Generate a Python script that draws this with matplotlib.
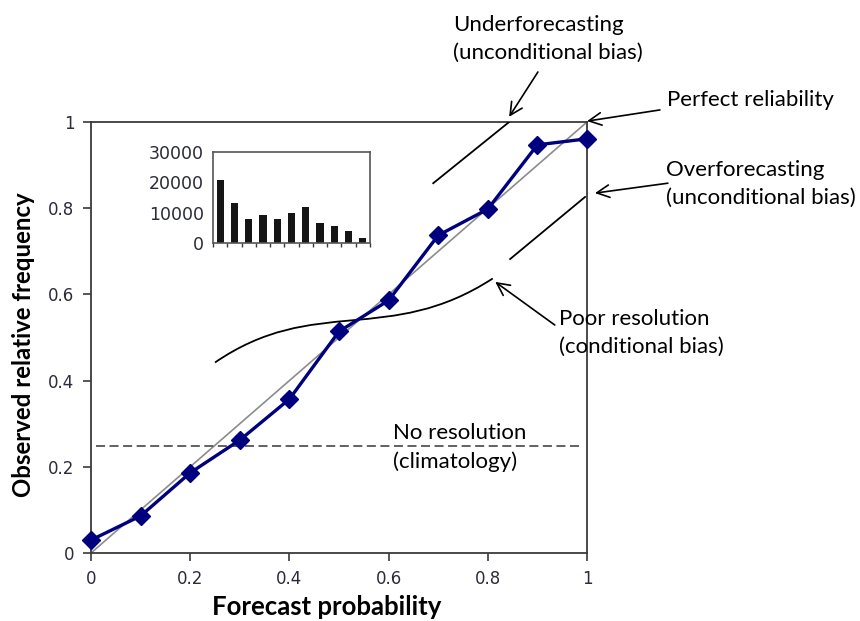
import matplotlib
matplotlib.use("Agg")
import matplotlib.pyplot as plt
from matplotlib.path import Path
from matplotlib.patches import PathPatch

# ---- data ----
forecast_prob = [0.0, 0.1, 0.2, 0.3, 0.4, 0.5, 0.6, 0.7, 0.8, 0.9, 1.0]
observed_freq = [0.030, 0.086, 0.186, 0.262, 0.357, 0.514, 0.586, 0.737, 0.798, 0.947, 0.961]
climatology = 0.248
hist_counts = [20700, 13100, 7900, 9200, 7900, 9800, 12000, 6700, 5500, 3800, 1500]
x_ticks = [0, 0.2, 0.4, 0.6, 0.8, 1.0]
x_ticklabels = ["0", "0.2", "0.4", "0.6", "0.8", "1"]
y_ticks = [0, 0.2, 0.4, 0.6, 0.8, 1.0]
y_ticklabels = ["0", "0.2", "0.4", "0.6", "0.8", "1"]
inset_yticks = [0, 10000, 20000, 30000]

TXT = ["Lato", "DejaVu Sans"]
TICK = ["DejaVu Sans"]
tick_color = "#2b2b3a"
spine_color = "#3a3a3a"

fig = plt.figure(figsize=(8.6, 6.21), dpi=100)
ax = fig.add_axes([91/860, 1-553/621, 496/860, 431/621])
ax.set_xlim(0, 1)
ax.set_ylim(0, 1)

# perfect reliability diagonal
ax.plot([0, 1], [0, 1], color="#8c8c8c", lw=1.2, zorder=2)
# climatology dashed
ax.axhline(climatology, xmin=0.01, xmax=0.99, color="#555555", lw=1.3,
           dashes=(5, 2.5), zorder=2)
# reliability curve
ax.plot(forecast_prob, observed_freq, color="#00007f", lw=2.4, marker="D",
        markersize=9.5, markerfacecolor="#00007f", markeredgecolor="#00007f",
        clip_on=False, zorder=4)

# bias illustration lines
ax.plot([0.690, 0.843], [0.858, 1.0], color="black", lw=1.3, zorder=3)
ax.plot([0.845, 0.996], [0.682, 0.826], color="black", lw=1.3, zorder=3)

# poor resolution S-curve
verts = [(0.25, 0.442), (0.45, 0.60), (0.60, 0.48), (0.81, 0.637)]
codes = [Path.MOVETO, Path.CURVE4, Path.CURVE4, Path.CURVE4]
ax.add_patch(PathPatch(Path(verts, codes), facecolor="none", edgecolor="black",
                       lw=1.3, zorder=3))

for s in ax.spines.values():
    s.set_color(spine_color)
    s.set_linewidth(1.3)

ax.set_xticks(x_ticks)
ax.set_xticklabels(x_ticklabels, family=TICK, fontsize=12, color=tick_color)
ax.set_yticks(y_ticks)
ax.set_yticklabels(y_ticklabels, family=TICK, fontsize=12, color=tick_color)
ax.tick_params(axis="both", direction="out", length=6, width=1.2, color=spine_color)
ax.tick_params(axis="x", pad=6)
ax.tick_params(axis="y", pad=6)

fig.text(24/860, 1-345/621, "Observed relative frequency", rotation=90,
         ha="center", va="center", family=TXT, fontweight="bold", fontsize=17.3)
fig.text(327/860, 1-607/621, "Forecast probability",
         ha="center", va="center", family=TXT, fontweight="bold", fontsize=18.5)

arrow = dict(arrowstyle="->,head_length=0.9,head_width=0.45", color="black",
             lw=1.2, shrinkA=0, shrinkB=0)
ann_kw = dict(xycoords="data", textcoords="data", annotation_clip=False)
ax.annotate("", xy=(0.843, 1.012), xytext=(0.901, 1.116), arrowprops=arrow, **ann_kw)
ax.annotate("", xy=(1.0, 1.002), xytext=(1.147, 1.028), arrowprops=arrow, **ann_kw)
ax.annotate("", xy=(1.016, 0.835), xytext=(1.163, 0.858), arrowprops=arrow, **ann_kw)
ax.annotate("", xy=(0.815, 0.629), xytext=(0.935, 0.529), arrowprops=arrow, **ann_kw)

tkw = dict(family=TXT, fontsize=16, ha="left", va="center", linespacing=1.5,
           clip_on=False, transform=ax.transData)
ax.text(0.730, 1.193, "Underforecasting\n(unconditional bias)", **tkw)
ax.text(1.161, 1.051, "Perfect reliability", **tkw)
ax.text(1.159, 0.857, "Overforecasting\n(unconditional bias)", **tkw)
ax.text(0.944, 0.510, "Poor resolution\n(conditional bias)", **tkw)
ax.text(0.609, 0.245, "No resolution\n(climatology)", **tkw)

# inset histogram
ins = fig.add_axes([213/860, 1-243/621, 157/860, 91/621])
idx = list(range(len(hist_counts)))
ins.bar(idx, hist_counts, width=0.5, color="#151515")
ins.set_xlim(-0.5, len(hist_counts) - 0.5)
ins.set_ylim(0, 30000)
ins.set_xticks([i - 0.5 for i in range(len(hist_counts) + 1)])
ins.set_xticklabels([])
ins.set_yticks(inset_yticks)
ins.set_yticklabels([str(v) for v in inset_yticks], family=TICK, fontsize=12.5,
                    color=tick_color)
ins.tick_params(axis="x", direction="out", length=3, width=1, color=spine_color)
ins.tick_params(axis="y", length=0, pad=6.5)
for s in ins.spines.values():
    s.set_color("#555555")
    s.set_linewidth(1.2)

fig.savefig("out.png", dpi=100)
